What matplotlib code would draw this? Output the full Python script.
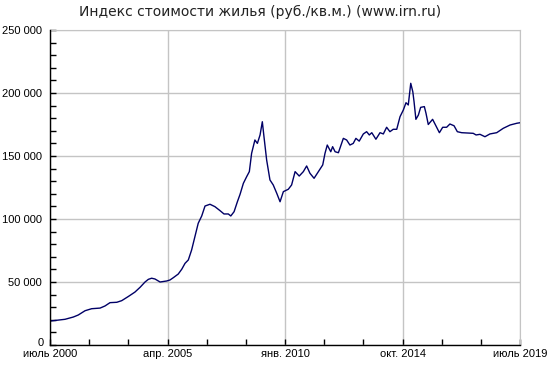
import matplotlib
matplotlib.use("Agg")
import matplotlib.pyplot as plt
from matplotlib.ticker import MultipleLocator, FuncFormatter

# months since July 2000
months = [0, 7.3, 11.3, 13.7, 17, 20.2, 24.3, 26.7, 29.1, 32.4, 34.8, 38, 41.2, 43.7,
          46.1, 47.7, 49.3, 50.9, 53.4, 56.6, 58.2, 59.8, 62.2, 63.9, 65.5, 67.1, 68.7,
          70.3, 71.9, 73.6, 75.2, 77.6, 80, 82.5, 84.4, 86.5, 87.7, 89.3, 90.9, 92.2,
          93.8, 95.4, 96.7, 97.8, 99.4, 100.6, 101.9, 103, 103.8, 105.1, 106.7, 108.3,
          110, 111.6, 113.2, 115.6, 117.2, 118.9, 120.9, 122.9, 124.5, 126.1, 128.1,
          130.2, 132.3, 133.4, 134.5, 136.2, 137.1, 138.3, 139.9, 142.3, 143.9, 145.5,
          147.1, 148.4, 150, 152, 153.6, 154.9, 156.1, 158.1, 160.1, 161.7, 163.3, 164.9,
          166.5, 168.2, 169.8, 171.4, 172.7, 173.8, 175, 176, 176.6, 177.5, 178.7, 179.8,
          181.6, 182.4, 183.5, 185.6, 187.2, 188.9, 190.5, 192.4, 194, 196, 197.6, 199.7,
          205.3, 206.7, 208.6, 211, 213.4, 216.7, 219.9, 223.2, 226.5, 228]
prices = [19000, 20400, 22200, 23800, 27200, 28800, 29300, 31000, 33600, 33900, 35200,
          38500, 42000, 45800, 50000, 52100, 53000, 52400, 50000, 50800, 51600, 53400,
          56300, 60100, 64800, 67500, 75400, 86000, 96600, 102400, 110300, 111700, 109800,
          106600, 104000, 104000, 102400, 105800, 113700, 119600, 128300, 133600, 137600,
          152100, 162700, 160000, 166700, 177200, 165300, 146800, 131000, 127000, 120400,
          113700, 121700, 123600, 127000, 137600, 134100, 137600, 142100, 136300, 132300,
          137600, 142900, 152100, 158700, 153400, 157400, 153400, 152600, 164000, 162700,
          158700, 160000, 164000, 161800, 167500, 169300, 166700, 168500, 163300, 168500,
          167500, 172800, 169300, 171200, 171200, 181200, 186500, 192300, 190500, 207700,
          201000, 193100, 179100, 182500, 188600, 189200, 183900, 175000, 179100, 174000,
          168500, 172800, 172800, 175400, 174000, 169300, 168500, 168000, 166700, 167200,
          165300, 167500, 168500, 172000, 174600, 176000, 176400]

tick_months = [0, 57, 114, 171, 228]
tick_labels = ["июль 2000", "апр. 2005", "янв. 2010", "окт. 2014", "июль 2019"]
title = "Индекс стоимости жилья (руб./кв.м.) (www.irn.ru)"

fig = plt.figure(figsize=(5.5, 3.75), dpi=100)
ax = fig.add_axes([50/550, 30/375, 470/550, 315/375])

grid_c = "#c4c4c4"
ax.plot(months, prices, color="#000066", lw=1.0, zorder=3)

ax.set_xlim(0, 228)
ax.set_ylim(0, 250000)
ax.set_xticks(tick_months)
ax.set_xticklabels(tick_labels, fontfamily="Liberation Sans", fontsize=8)
ax.xaxis.set_minor_locator(MultipleLocator(19))
ax.yaxis.set_major_locator(MultipleLocator(50000))
ax.yaxis.set_minor_locator(MultipleLocator(10000))


def yfmt(v, p):
    if v == 0:
        return ""  # drawn separately, lifted slightly above the axis
    return f"{int(v):,}".replace(",", " ")


ax.yaxis.set_major_formatter(FuncFormatter(yfmt))
for lab in ax.get_yticklabels():
    lab.set_fontfamily("Liberation Sans")
    lab.set_fontsize(8)

ax.annotate("0", xy=(0, 0), xycoords=("axes fraction", "data"),
            xytext=(-4.5, 1.5), textcoords="offset points", ha="right", va="center",
            fontfamily="Liberation Sans", fontsize=8)

ax.tick_params(which="both", direction="in", length=4, width=1, color="black",
               top=False, right=False)
ax.tick_params(axis="y", which="major", pad=6)
ax.tick_params(axis="x", which="major", pad=3)

ax.grid(True, which="major", color=grid_c, lw=1, zorder=0)
for s in ["top", "right"]:
    ax.spines[s].set_color(grid_c)
for s in ["left", "bottom"]:
    ax.spines[s].set_color("black")
    ax.spines[s].set_linewidth(1)
    ax.spines[s].set_zorder(4)

fig.text(260/550, 1 - 12/375, title, ha="center", va="center",
         fontfamily="DejaVu Sans", fontsize=10, color="#222222")

fig.savefig("out.png", dpi=100)
